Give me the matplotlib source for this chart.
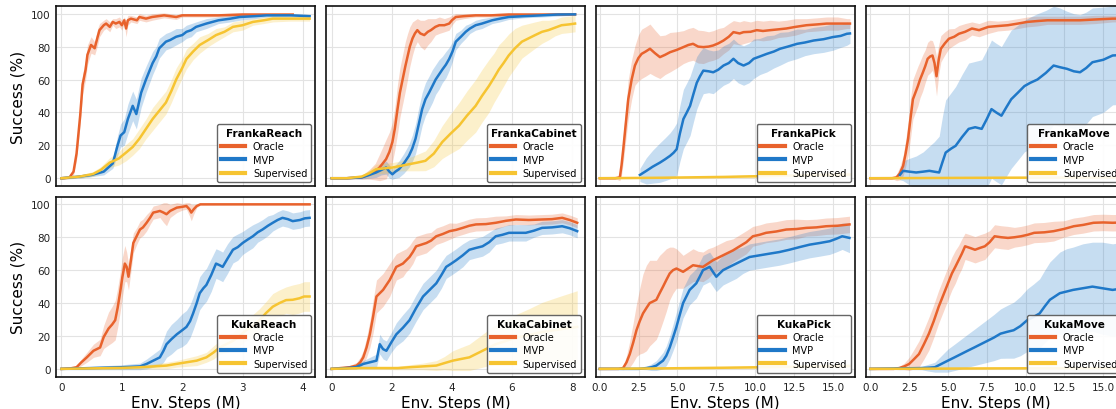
import matplotlib
matplotlib.use("Agg")
import matplotlib.pyplot as plt
import numpy as np

# each row: (env steps in M, mean success %, spread of the shaded band %)
franka_reach_oracle = [
    (0, 0, 0.3), (0.13, 0.3, 0.5), (0.2, 4, 2), (0.25, 15, 4), (0.31, 38, 5), (0.35, 57, 6),
    (0.4, 66, 6), (0.43, 75, 6), (0.49, 81, 5), (0.55, 79, 4), (0.6, 86, 5), (0.63, 90, 4),
    (0.7, 93, 3), (0.74, 94, 3), (0.8, 92, 3), (0.85, 95, 2), (0.9, 94, 3), (0.96, 95, 3),
    (1.0, 93, 3), (1.04, 96, 2), (1.07, 91, 5), (1.1, 96, 3), (1.15, 97, 2), (1.25, 96, 2),
    (1.29, 98, 2), (1.4, 97, 2), (1.5, 98, 2), (1.7, 99, 1.5), (1.9, 98, 1.5), (2.0, 99, 1),
    (2.3, 99, 1), (2.6, 99, 1), (3.0, 99.5, 1), (3.4, 99.5, 0.5), (3.83, 99.5, 0.5),
]
franka_reach_mvp = [
    (0, 0, 0.5), (0.3, 1, 1), (0.5, 2, 1), (0.7, 4, 2), (0.85, 9, 3), (0.93, 20, 6),
    (0.98, 26, 7), (1.04, 28, 8), (1.1, 36, 9), (1.18, 44, 9), (1.24, 39, 9), (1.32, 52, 9),
    (1.4, 60, 8), (1.51, 70, 7), (1.57, 74, 6), (1.62, 79, 6), (1.73, 83, 5), (1.8, 84, 5),
    (1.9, 86, 5), (2.0, 87, 4), (2.07, 89, 4), (2.15, 90, 4), (2.23, 92, 3), (2.4, 94, 3),
    (2.6, 96, 2), (2.8, 97, 2), (2.95, 98, 2), (3.2, 98.5, 1.5), (3.4, 99, 1), (3.8, 99, 1),
    (4.11, 98.5, 1),
]
franka_reach_sup = [
    (0, 0, 0.5), (0.3, 1, 1), (0.52, 2.5, 1.5), (0.65, 5, 2), (0.8, 9.5, 3), (0.95, 12, 4),
    (1.07, 15.6, 5), (1.18, 19, 5), (1.29, 24, 6), (1.4, 30, 6), (1.51, 36, 7), (1.62, 41, 7),
    (1.73, 46, 7), (1.82, 53, 7), (1.9, 60, 7), (2.0, 67, 6), (2.07, 72.5, 6), (2.18, 77, 5),
    (2.29, 81, 5), (2.43, 84, 4), (2.56, 87, 4), (2.7, 89, 3), (2.84, 92, 3), (3.0, 93, 3),
    (3.17, 95, 2), (3.35, 96, 2), (3.5, 97, 2), (3.8, 97, 1.5), (4.11, 97, 1.5),
]

franka_cabinet_oracle = [
    (0, 0, 0.3), (0.5, 0, 0.3), (1.0, 0.5, 1), (1.26, 2.4, 3), (1.45, 4, 5), (1.59, 6.5, 8),
    (1.7, 9, 10), (1.81, 11.6, 12), (1.92, 16, 12), (2.02, 22, 12), (2.1, 30, 13), (2.19, 42, 15),
    (2.27, 52, 15), (2.36, 60, 15), (2.45, 68, 15), (2.52, 73.6, 14), (2.6, 80, 12), (2.69, 85, 10),
    (2.77, 88, 8), (2.85, 90, 7), (2.95, 88, 8), (3.08, 87, 9), (3.2, 89, 8), (3.3, 90, 7),
    (3.45, 92, 5), (3.58, 93, 5), (3.75, 93, 4), (3.91, 94, 4), (4.0, 96, 3), (4.13, 98, 2),
    (4.4, 98.5, 1.5), (4.79, 99, 1), (5.3, 99, 1), (5.89, 99.5, 1), (7.0, 99.5, 0.5), (8.1, 99.6, 0.5),
]
franka_cabinet_mvp = [
    (0, 0, 0.3), (0.5, 0, 0.3), (1.0, 0.5, 1), (1.25, 2, 2), (1.48, 3.5, 3), (1.65, 5, 3),
    (1.81, 6.5, 4), (1.92, 4, 4), (2.02, 2.4, 3), (2.12, 4, 4), (2.24, 5.5, 5), (2.4, 9, 6),
    (2.57, 13.6, 7), (2.68, 18, 8), (2.79, 24, 9), (2.9, 33, 10), (3.01, 42, 10), (3.12, 48, 10),
    (3.24, 52, 10), (3.35, 56, 10), (3.46, 60, 9), (3.57, 63, 9), (3.68, 66, 8), (3.8, 69, 8),
    (3.91, 72.5, 7), (4.02, 77, 6), (4.13, 83, 5), (4.3, 86, 4), (4.46, 89, 4), (4.6, 91, 3),
    (4.79, 93, 3), (5.0, 94, 3), (5.34, 96, 2), (5.6, 97, 2), (5.89, 98, 1.5), (6.4, 98.5, 1),
    (6.99, 99, 1), (7.5, 99.5, 1), (8.1, 99.6, 0.5),
]
franka_cabinet_sup = [
    (0, 0, 0.3), (0.5, 0, 0.3), (1.0, 1, 1), (1.25, 3, 2), (1.48, 5.5, 3), (1.75, 6, 3),
    (2.02, 6.5, 3), (2.3, 7.5, 3), (2.57, 8.5, 4), (2.85, 9.5, 5), (3.12, 10.6, 6), (3.4, 15, 8),
    (3.68, 22, 10), (3.95, 27, 12), (4.24, 32, 14), (4.5, 38, 15), (4.79, 44, 16), (5.0, 50, 16),
    (5.23, 56, 16), (5.4, 61, 15), (5.56, 66, 15), (5.72, 70, 14), (5.89, 74.6, 13), (6.1, 79, 12),
    (6.33, 83, 10), (6.55, 85, 9), (6.77, 87, 8), (7.0, 89, 7), (7.21, 90, 6), (7.43, 91.5, 5),
    (7.65, 93, 5), (7.9, 93.5, 5), (8.1, 94, 5),
]

franka_pick_oracle = [
    (0, 0, 0.3), (1.0, 0, 0.3), (1.29, 0.5, 2), (1.4, 8, 6), (1.51, 17.7, 8), (1.67, 33, 10),
    (1.83, 48, 12), (2.05, 60, 12), (2.26, 68.5, 12), (2.48, 73, 14), (2.69, 75.6, 15), (2.95, 77, 15),
    (3.23, 78.7, 15), (3.55, 76, 14), (3.87, 73.6, 13), (4.2, 75, 12), (4.52, 76.6, 12), (4.95, 78, 11),
    (5.38, 79.7, 10), (5.7, 81, 10), (6.0, 81.7, 10), (6.33, 80, 10), (6.66, 79.7, 10), (7.0, 80, 9),
    (7.3, 80.7, 9), (7.63, 82, 9), (7.96, 83.7, 8), (8.3, 86, 8), (8.6, 88.8, 7), (9.0, 88, 7),
    (9.25, 88.8, 7), (9.7, 89, 6), (10.1, 90, 6), (10.5, 89.5, 6), (10.97, 90, 6), (11.5, 90.5, 5),
    (12.0, 91, 5), (12.6, 92, 5), (13.3, 93, 4), (14.0, 93.5, 4), (14.6, 94, 4), (15.3, 94, 4),
    (15.9, 94, 3), (16.1, 94, 3),
]
franka_pick_mvp = [
    (2.58, 2, 4), (3.0, 4.5, 8), (3.4, 7, 10), (3.87, 9.5, 12), (4.2, 11.5, 13), (4.52, 13.6, 14),
    (4.75, 15.5, 15), (4.95, 17.7, 16), (5.15, 27, 17), (5.38, 36, 18), (5.6, 40, 18), (5.81, 44, 18),
    (6.02, 51, 17), (6.24, 58, 16), (6.45, 62, 15), (6.66, 65.4, 14), (7.0, 65, 13), (7.3, 64.4, 13),
    (7.63, 66, 12), (7.96, 68.5, 12), (8.3, 70, 12), (8.6, 72.6, 12), (8.9, 70, 12), (9.25, 68.5, 12),
    (9.6, 70, 12), (9.9, 72.6, 12), (10.3, 74, 11), (10.75, 75.6, 11), (11.2, 77, 10), (11.6, 78.7, 10),
    (12.1, 80, 9), (12.7, 81.7, 9), (13.2, 82.5, 8), (13.76, 83.7, 8), (14.4, 84.5, 8), (15.0, 85.8, 8),
    (15.5, 86.5, 7), (15.9, 87.8, 7), (16.1, 88, 6),
]
franka_pick_sup = [
    (0, 0, 0.3), (4, 0.3, 0.5), (8, 0.8, 0.7), (10, 1.2, 1), (12, 1.6, 1), (14, 2, 1), (16.1, 2.2, 1),
]

franka_move_oracle = [
    (0, 0, 0.3), (1.4, 0, 0.3), (1.69, 0.5, 2), (1.9, 3, 4), (2.11, 7.5, 6), (2.27, 15, 8),
    (2.43, 24, 10), (2.58, 36, 12), (2.74, 48, 12), (2.9, 52, 12), (3.06, 56, 12), (3.2, 60, 11),
    (3.37, 64, 11), (3.53, 68, 10), (3.69, 72.6, 10), (3.85, 74, 10), (4.0, 74.6, 9), (4.13, 70, 10),
    (4.26, 62, 12), (4.4, 72, 9), (4.54, 78.7, 8), (4.8, 82, 7), (5.06, 84.8, 6), (5.4, 86, 5),
    (5.7, 87.8, 5), (6.1, 89, 5), (6.54, 91, 4), (7.0, 90, 4), (7.6, 92, 4), (8.2, 92.5, 3),
    (8.86, 93, 3), (9.5, 94, 3), (10.1, 95, 3), (10.7, 95.5, 3), (11.4, 96, 2.5), (12.5, 96, 2.5),
    (13.5, 96, 2.5), (14.5, 96.5, 2.5), (15.6, 97, 2), (16.4, 97, 2),
]
franka_move_mvp = [
    (1.9, 2, 3), (2.11, 4.5, 6), (2.5, 4, 8), (2.95, 3.5, 10), (3.4, 4, 12), (3.8, 4.5, 15),
    (4.1, 4, 18), (4.43, 3.5, 22), (4.65, 10, 28), (4.85, 15.6, 32), (5.2, 18, 34), (5.49, 19.7, 36),
    (5.9, 25, 38), (6.33, 30, 40), (6.75, 31, 40), (7.17, 30, 42), (7.5, 36, 42), (7.8, 42, 42),
    (8.1, 40, 42), (8.44, 38, 42), (8.75, 43, 42), (9.07, 48, 42), (9.5, 52, 41), (9.92, 56, 40),
    (10.3, 58, 40), (10.76, 60, 40), (11.3, 64, 38), (11.8, 68.5, 36), (12.2, 67.5, 36), (12.66, 66.5, 35),
    (13.1, 65, 35), (13.5, 64.4, 35), (13.9, 67, 34), (14.3, 70.5, 33), (15.0, 72, 32), (15.6, 74.6, 30),
    (16.4, 75, 30),
]
franka_move_sup = [(0, 0, 0.3), (8, 0.3, 0.3), (16.4, 0.5, 0.5)]

kuka_reach_oracle = [
    (0, 0, 0.3), (0.15, 0.3, 0.5), (0.25, 1, 1), (0.33, 4, 2), (0.42, 7, 3), (0.53, 11, 4),
    (0.64, 13, 5), (0.7, 19.4, 7), (0.78, 24.5, 10), (0.84, 27, 11), (0.89, 29.6, 12), (0.93, 37, 12),
    (0.97, 46, 12), (1.01, 56, 12), (1.05, 64, 11), (1.08, 62, 9), (1.11, 56, 8), (1.15, 66, 7),
    (1.19, 76.5, 6), (1.25, 81, 5), (1.3, 84.7, 5), (1.35, 86, 5), (1.41, 88.8, 5), (1.47, 92, 4),
    (1.52, 95, 4), (1.58, 95.5, 4), (1.63, 96, 4), (1.69, 95, 6), (1.74, 94, 7), (1.8, 96, 4),
    (1.91, 98, 3), (2.0, 98.5, 2), (2.07, 99, 2), (2.12, 97, 4), (2.15, 95, 5), (2.19, 97, 3),
    (2.24, 99, 1), (2.3, 100, 0.3), (3.0, 100, 0.2), (4.11, 100, 0.2),
]
kuka_reach_mvp = [
    (0, 0, 0.5), (0.5, 0.5, 1), (1.0, 1, 1.5), (1.3, 1.5, 2), (1.41, 3, 3), (1.52, 5, 4),
    (1.63, 7, 5), (1.69, 11, 7), (1.74, 15, 8), (1.82, 18, 9), (1.91, 21, 9), (2.0, 23.5, 10),
    (2.07, 25.5, 10), (2.13, 29, 10), (2.18, 33.7, 10), (2.24, 40, 10), (2.29, 46, 10), (2.35, 49, 10),
    (2.4, 51, 10), (2.48, 57, 10), (2.56, 64, 9), (2.62, 63, 9), (2.67, 62, 9), (2.75, 67, 9),
    (2.84, 72.4, 8), (2.92, 74, 8), (3.0, 76.5, 7), (3.08, 78.5, 7), (3.17, 80.6, 7), (3.25, 83, 6),
    (3.33, 84.7, 6), (3.42, 87, 6), (3.5, 88.8, 5), (3.58, 90.5, 5), (3.66, 91.8, 5), (3.75, 91, 5),
    (3.83, 89.8, 5), (3.95, 90.5, 5), (4.03, 91.5, 5), (4.11, 91.8, 5),
]
kuka_reach_sup = [
    (0, 0, 0.3), (0.5, 0.3, 0.5), (1.0, 0.6, 1), (1.3, 1, 1), (1.52, 1.5, 1.5), (1.74, 2, 2),
    (1.9, 3, 2), (2.07, 4, 2.5), (2.24, 5, 3), (2.4, 7, 3), (2.52, 10, 4), (2.62, 13, 4),
    (2.73, 15, 5), (2.84, 17, 5), (2.95, 20, 6), (3.06, 23.5, 6), (3.17, 26, 7), (3.28, 29.6, 7),
    (3.39, 34, 7), (3.5, 37.8, 8), (3.61, 40, 8), (3.72, 41.8, 8), (3.83, 42, 9), (3.94, 42.9, 9),
    (4.02, 44, 9), (4.11, 44, 9),
]

kuka_cabinet_oracle = [
    (0, 0, 0.3), (0.3, 0.5, 0.5), (0.6, 1, 1), (0.83, 2, 2), (0.95, 4, 3), (1.05, 7, 4),
    (1.16, 13, 6), (1.27, 21, 8), (1.38, 32, 10), (1.49, 44, 10), (1.6, 46, 10), (1.71, 48, 10),
    (1.82, 51, 10), (1.93, 54, 10), (2.04, 58, 9), (2.15, 62, 8), (2.26, 63, 8), (2.37, 64, 8),
    (2.48, 66, 7), (2.59, 68, 7), (2.7, 71, 7), (2.81, 74.5, 6), (2.98, 75.5, 6), (3.15, 76.5, 6),
    (3.31, 78, 5), (3.48, 80.6, 5), (3.7, 82, 5), (3.92, 83.7, 5), (4.14, 84.5, 4), (4.36, 85.7, 4),
    (4.58, 87, 4), (4.8, 87.8, 4), (5.13, 88, 4), (5.46, 88.8, 4), (5.8, 90, 3), (6.13, 90.8, 3),
    (6.56, 90.5, 3), (7.0, 90.8, 3), (7.33, 91, 3), (7.67, 91.8, 3), (7.92, 90.5, 3), (8.17, 88.8, 3),
]
kuka_cabinet_mvp = [
    (0, 0, 0.3), (0.5, 0.5, 0.5), (0.8, 1, 1), (1.05, 3, 2), (1.27, 4, 3), (1.49, 5, 4),
    (1.6, 15, 6), (1.71, 12, 6), (1.82, 11, 6), (1.98, 16, 6), (2.15, 21, 7), (2.37, 25, 8),
    (2.59, 29.6, 8), (2.81, 37, 8), (3.04, 44, 8), (3.26, 48, 8), (3.48, 52, 8), (3.65, 57, 8),
    (3.81, 62, 7), (3.98, 64, 7), (4.14, 66, 7), (4.36, 69, 7), (4.58, 72.4, 6), (4.8, 73.5, 6),
    (5.02, 74.5, 6), (5.24, 77, 6), (5.46, 80.6, 5), (5.68, 81.5, 5), (5.9, 82.7, 5), (6.18, 82.7, 5),
    (6.46, 82.7, 5), (6.73, 84, 4), (7.0, 85.7, 4), (7.33, 86, 4), (7.67, 86.7, 4), (7.92, 85.5, 4),
    (8.17, 83.7, 4),
]
kuka_cabinet_sup = [
    (0, 0, 0.3), (1.0, 0.5, 0.5), (2.2, 0.5, 1), (2.59, 1, 1.5), (3.04, 1.5, 2), (3.48, 2, 3),
    (3.75, 3.5, 4), (4.03, 5, 6), (4.3, 6, 7), (4.58, 7, 8), (4.8, 9, 9), (5.02, 11, 10),
    (5.24, 13, 11), (5.46, 15, 12), (5.8, 17, 13), (6.13, 19, 14), (6.56, 20.5, 16), (7.0, 22.4, 18),
    (7.58, 24, 20), (8.17, 25.5, 22),
]

kuka_pick_oracle = [
    (0, 0, 0.3), (1.2, 0, 0.3), (1.5, 0.5, 1), (1.72, 4, 4), (1.93, 9, 8), (2.15, 16, 12),
    (2.36, 23.5, 16), (2.57, 29, 20), (2.78, 33.7, 24), (3.0, 37, 26), (3.21, 40, 26), (3.43, 41, 25),
    (3.64, 42, 24), (3.85, 46, 23), (4.07, 50, 21), (4.28, 54, 19), (4.5, 58, 16), (4.71, 60, 14),
    (4.93, 61, 12), (5.15, 60, 11), (5.36, 59, 10), (5.68, 61, 10), (6.0, 63, 10), (6.32, 62.5, 9),
    (6.64, 62, 9), (6.96, 64, 9), (7.28, 66, 8), (7.71, 68, 8), (8.14, 70, 8), (8.57, 72, 7),
    (9.0, 74.5, 7), (9.43, 77, 7), (9.85, 80.6, 6), (10.28, 81.5, 6), (10.7, 82.7, 6), (11.35, 83.5, 6),
    (12.0, 84.7, 6), (12.65, 85, 6), (13.3, 85.7, 5), (13.93, 86, 5), (14.57, 86.7, 5), (15.3, 87, 5),
    (16.07, 87.8, 5),
]
kuka_pick_mvp = [
    (0, 0, 0.3), (2.5, 0, 0.3), (3.0, 0.5, 1), (3.32, 1, 2), (3.64, 2, 3), (3.85, 3.5, 4),
    (4.07, 5, 5), (4.28, 8, 6), (4.5, 13, 7), (4.71, 19, 8), (4.93, 25.5, 9), (5.15, 33, 9),
    (5.36, 40, 9), (5.57, 44, 9), (5.78, 48, 9), (6.0, 50, 9), (6.21, 52, 9), (6.43, 56, 9),
    (6.64, 60, 9), (6.86, 61, 9), (7.07, 62, 9), (7.28, 59, 9), (7.5, 56, 9), (7.71, 58, 9),
    (7.93, 60, 9), (8.35, 62, 9), (8.78, 64, 9), (9.21, 66, 8), (9.64, 68, 8), (10.27, 69, 8),
    (10.9, 70, 8), (11.55, 71, 8), (12.2, 72.4, 8), (12.85, 74, 8), (13.5, 75.5, 8), (14.15, 76.5, 8),
    (14.8, 77.6, 8), (15.2, 79, 8), (15.6, 80.6, 8), (16.07, 79.6, 9),
]
kuka_pick_sup = [(0, 0, 0.3), (4, 0.3, 0.5), (8, 0.7, 0.7), (12, 1.2, 1), (16.07, 1.8, 1)]

kuka_move_oracle = [
    (0, 0, 0.3), (1.5, 0, 0.3), (1.86, 0.5, 1), (2.18, 1.5, 2), (2.5, 3, 4), (2.82, 6, 6),
    (3.13, 9, 8), (3.45, 15, 9), (3.77, 21.4, 10), (4.08, 29, 10), (4.4, 37.8, 10), (4.62, 43, 10),
    (4.83, 48, 10), (5.04, 53, 10), (5.25, 58, 10), (5.47, 62, 10), (5.68, 66, 9), (5.89, 70, 9),
    (6.1, 74.5, 8), (6.42, 73.5, 8), (6.74, 72.4, 8), (7.05, 73.5, 8), (7.37, 74.5, 8), (7.68, 77, 7),
    (8.0, 80.6, 7), (8.43, 80, 7), (8.86, 79.6, 7), (9.28, 80, 6), (9.7, 80.6, 6), (10.13, 81.5, 6),
    (10.55, 82.7, 6), (11.2, 83, 6), (11.8, 83.7, 6), (12.45, 85, 5), (13.1, 86.7, 5), (13.7, 87.5, 5),
    (14.37, 88.8, 5), (15.0, 89, 5), (15.6, 88.8, 5), (16.3, 89, 5),
]
kuka_move_mvp = [
    (0, 0, 0.3), (3.3, 0.5, 1), (3.7, 0.7, 2), (4.15, 1, 3), (4.57, 3, 5), (4.99, 5, 7),
    (5.42, 7, 8), (5.84, 9, 9), (6.26, 11, 10), (6.69, 13, 11), (7.11, 15, 12), (7.53, 17, 13),
    (7.95, 19, 14), (8.38, 21.4, 15), (8.8, 22.5, 16), (9.23, 23.5, 17), (9.66, 26, 18), (10.1, 29.6, 19),
    (10.5, 31.5, 20), (10.9, 33.7, 21), (11.23, 38, 22), (11.56, 42, 23), (11.88, 44, 24), (12.2, 46, 25),
    (12.63, 47, 26), (13.05, 48, 26), (13.68, 49, 27), (14.3, 50, 27), (14.95, 49, 28), (15.6, 48, 28),
    (16.3, 49, 28),
]
kuka_move_sup = [(0, 0, 0.3), (8, 0.3, 0.3), (16.3, 0.5, 0.5)]

titles = ["FrankaReach", "FrankaCabinet", "FrankaPick", "FrankaMove",
          "KukaReach", "KukaCabinet", "KukaPick", "KukaMove"]
panel_data = [
    [franka_reach_oracle, franka_reach_mvp, franka_reach_sup],
    [franka_cabinet_oracle, franka_cabinet_mvp, franka_cabinet_sup],
    [franka_pick_oracle, franka_pick_mvp, franka_pick_sup],
    [franka_move_oracle, franka_move_mvp, franka_move_sup],
    [kuka_reach_oracle, kuka_reach_mvp, kuka_reach_sup],
    [kuka_cabinet_oracle, kuka_cabinet_mvp, kuka_cabinet_sup],
    [kuka_pick_oracle, kuka_pick_mvp, kuka_pick_sup],
    [kuka_move_oracle, kuka_move_mvp, kuka_move_sup],
]
methods = ["Oracle", "MVP", "Supervised"]
colors = ["#e8622c", "#1f78c8", "#f6c431"]

col_xlim = [(-0.09, 4.2), (-0.19, 8.43), (-0.27, 16.4), (-0.28, 16.4)]
col_xticks = [[0, 1, 2, 3, 4], [0, 2, 4, 6, 8],
              [0, 2.5, 5, 7.5, 10, 12.5, 15], [0, 2.5, 5, 7.5, 10, 12.5, 15]]

fig = plt.figure(figsize=(11.16, 4.10), dpi=100)
lefts = [0.0502, 0.2921, 0.5337, 0.7760]
bottoms = [0.5440, 0.0790]
w, h = 0.2321, 0.4390

for i, (title, curves) in enumerate(zip(titles, panel_data)):
    row, col = divmod(i, 4)
    ax = fig.add_axes([lefts[col], bottoms[row], w, h])
    for name, color, rows in zip(methods, colors, curves):
        arr = np.array(rows, dtype=float)
        x, y, s = arr[:, 0], arr[:, 1], arr[:, 2]
        ax.fill_between(x, y - s, y + s, color=color, alpha=0.25, lw=0)
        ax.plot(x, y, color=color, lw=1.8, label=name)

    ax.set_xlim(*col_xlim[col])
    ax.set_ylim(-4.7, 104.7)
    ax.set_xticks(col_xticks[col])
    ax.set_yticks([0, 20, 40, 60, 80, 100])
    ax.grid(True, color="#e3e3e3", lw=0.8)
    ax.set_axisbelow(True)
    ax.tick_params(length=0, labelsize=7.5, colors="#222222", pad=4)
    for sp in ax.spines.values():
        sp.set_color("#111111")
        sp.set_linewidth(1.2)

    if row == 0:
        ax.set_xticklabels([])
    else:
        ax.set_xlabel("Env. Steps (M)", fontsize=11, labelpad=2)
    if col == 0:
        ax.set_ylabel("Success (%)", fontsize=11)
    else:
        ax.set_yticklabels([])

    leg = ax.legend(title=title, loc="lower right", fontsize=7, title_fontsize=7.5,
                    handlelength=2.5, borderaxespad=0.4, framealpha=0.9,
                    edgecolor="#555555", fancybox=True, labelspacing=0.35)
    leg.get_title().set_fontweight("bold")
    for line in leg.get_lines():
        line.set_linewidth(3)

fig.savefig("out.png", dpi=100)
